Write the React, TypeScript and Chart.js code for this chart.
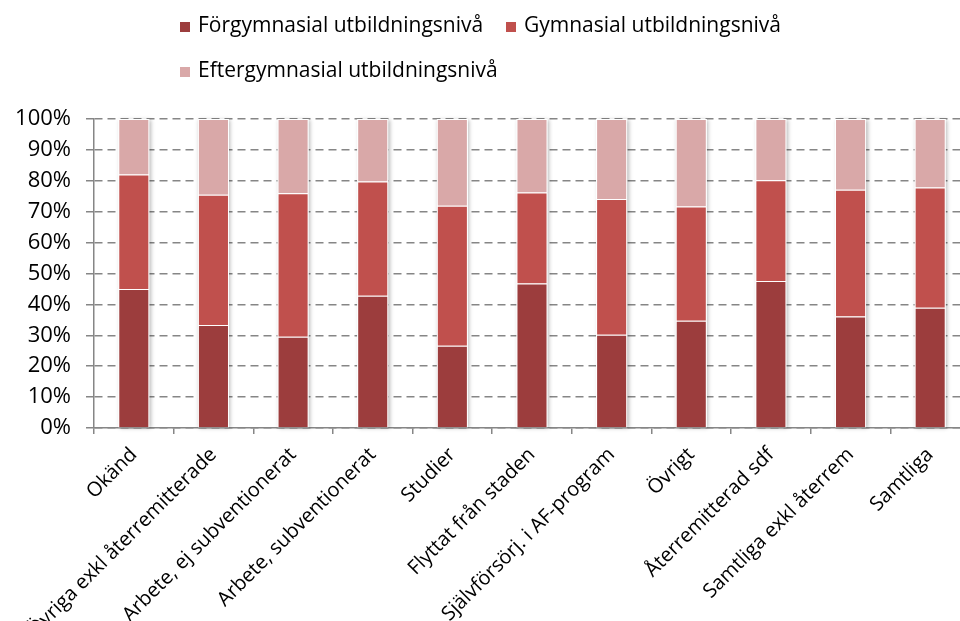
import React, { useEffect, useRef } from "react";
import { Chart, registerables } from "chart.js";

Chart.register(...registerables);

const categories = [
  "Okänd",
  "Övriga exkl återremitterade",
  "Arbete, ej subventionerat",
  "Arbete, subventionerat",
  "Studier",
  "Flyttat från staden",
  "Självförsörj. i AF-program",
  "Övrigt",
  "Återremitterad sdf",
  "Samtliga exkl återrem",
  "Samtliga",
];

const seriesNames = [
  "Förgymnasial utbildningsnivå",
  "Gymnasial utbildningsnivå",
  "Eftergymnasial utbildningsnivå",
];

const forgymnasial = [45, 33.3, 29.5, 42.8, 26.6, 46.8, 30.2, 34.7, 47.6, 36.1, 38.9];
const gymnasial = [37, 42.2, 46.5, 37, 45.3, 29.4, 43.9, 37, 32.6, 41, 38.9];
const eftergymnasial = [18, 24.5, 24, 20.2, 28.1, 23.8, 25.9, 28.3, 19.8, 22.9, 22.2];

const yTickValues = [0, 10, 20, 30, 40, 50, 60, 70, 80, 90, 100];

const seriesColors = ["#9C3D3D", "#C0504D", "#D9A8A8"];
const FONT = "'Open Sans', 'Liberation Sans', sans-serif";
const AXIS_GRAY = "#868686";

const shadowPlugin = {
  id: "stackShadow",
  beforeDatasetsDraw(chart: any) {
    const ctx = chart.ctx;
    const metas = chart.data.datasets.map((_: any, i: number) => chart.getDatasetMeta(i));
    const n = chart.data.labels.length;
    ctx.save();
    ctx.shadowColor = "rgba(0,0,0,0.28)";
    ctx.shadowBlur = 4;
    ctx.shadowOffsetX = 1.5;
    ctx.shadowOffsetY = 0.5;
    ctx.fillStyle = "#ffffff";
    for (let j = 0; j < n; j++) {
      let top = Infinity;
      let bottom = -Infinity;
      let x = 0;
      let w = 0;
      metas.forEach((m: any) => {
        const el = m.data[j];
        if (!el) return;
        const p = el.getProps(["x", "y", "base", "width"], true);
        top = Math.min(top, p.y, p.base);
        bottom = Math.max(bottom, p.y, p.base);
        x = p.x;
        w = p.width;
      });
      if (isFinite(top)) ctx.fillRect(x - w / 2, top, w, bottom - top);
    }
    ctx.restore();
  },
};

const legendPlugin = {
  id: "customLegend",
  afterDraw(chart: any) {
    const ctx = chart.ctx;
    ctx.save();
    ctx.font = `21px ${FONT}`;
    ctx.textBaseline = "middle";
    const ds = chart.data.datasets;
    const box = 10;
    const rows = [
      { y: 26, items: [0, 1] },
      { y: 71, items: [2] },
    ];
    rows.forEach((row) => {
      let x = 180;
      row.items.forEach((i) => {
        ctx.fillStyle = ds[i].backgroundColor;
        ctx.fillRect(x, row.y - box / 2 + 1, box, box);
        ctx.fillStyle = "#000";
        ctx.fillText(ds[i].label, x + box + 8, row.y);
        const w = ctx.measureText(ds[i].label).width;
        x = Math.max(506, x + box + 8 + w + 20);
      });
    });
    ctx.restore();
  },
};

export default function App() {
  const canvasRef = useRef<HTMLCanvasElement | null>(null);

  useEffect(() => {
    if (!canvasRef.current) return;
    const values = [forgymnasial, gymnasial, eftergymnasial];
    const chart = new Chart(canvasRef.current, {
      type: "bar",
      data: {
        labels: categories,
        datasets: seriesNames.map((name, i) => ({
          label: name,
          data: values[i],
          backgroundColor: seriesColors[i],
          borderColor: "#ffffff",
          borderWidth: 1,
          barPercentage: 1,
          categoryPercentage: 0.39,
        })),
      },
      options: {
        responsive: false,
        animation: false,
        devicePixelRatio: 1,
        layout: { padding: { top: 119, right: 0, left: 0, bottom: 0 } },
        plugins: {
          legend: { display: false },
          tooltip: { enabled: false },
        },
        scales: {
          x: {
            stacked: true,
            grid: {
              display: true,
              drawOnChartArea: false,
              drawTicks: true,
              tickLength: 6,
              color: AXIS_GRAY,
              lineWidth: 1.5,
            },
            border: { display: true, color: AXIS_GRAY, width: 1.5 },
            ticks: {
              autoSkip: false,
              maxRotation: 45,
              minRotation: 45,
              color: "#000",
              font: { family: FONT, size: 20 },
              padding: 9,
            },
            afterFit(scale: any) {
              scale.height = 193;
            },
          },
          y: {
            stacked: true,
            min: 0,
            max: 100,
            afterBuildTicks(scale: any) {
              scale.ticks = yTickValues.map((v) => ({ value: v }));
            },
            grid: {
              color: AXIS_GRAY,
              lineWidth: 1.5,
              tickLength: 8,
              drawTicks: true,
              tickColor: AXIS_GRAY,
              tickBorderDash: [1, 0],
            } as any,
            border: { display: true, color: AXIS_GRAY, width: 1.5, dash: [8, 5] },
            ticks: {
              color: "#000",
              font: { family: FONT, size: 22 },
              padding: 15,
              callback: (v: any) => `${v}%`,
            },
            afterFit(scale: any) {
              scale.width = 94;
            },
          },
        },
      },
      plugins: [shadowPlugin, legendPlugin],
    });
    return () => chart.destroy();
  }, []);

  return (
    <div
      style={{
        position: "absolute",
        left: 0,
        top: 0,
        width: 960,
        height: 621,
        overflow: "hidden",
        background: "#fff",
      }}
    >
      <canvas ref={canvasRef} width={970} height={621} style={{ display: "block" }} />
    </div>
  );
}
